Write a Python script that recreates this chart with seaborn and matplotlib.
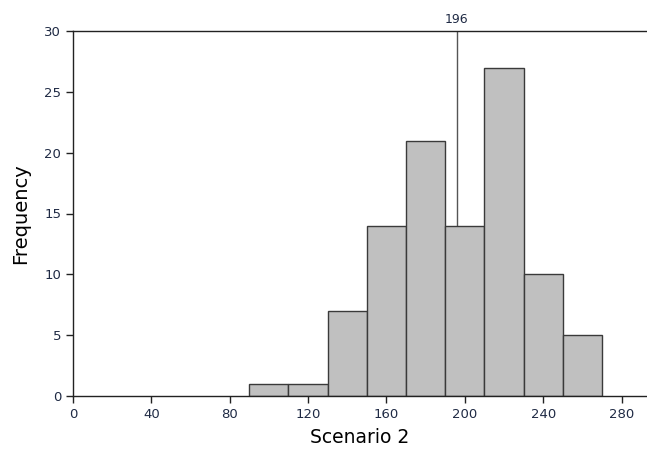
import matplotlib
matplotlib.use("Agg")
import matplotlib.pyplot as plt
import seaborn as sns
import numpy as np

# Histogram data (bin width 20)
bin_edges = [90, 110, 130, 150, 170, 190, 210, 230, 250, 270]
counts = [1, 1, 7, 14, 21, 14, 27, 10, 5]
ref_value = 196

sns.set_style("white")
plt.rcParams['font.family'] = ['DejaVu Sans']

fig = plt.figure(figsize=(6.47, 4.53), dpi=100)
ax = fig.add_axes([73 / 647, 57 / 453, 1 - 73 / 647, (396 - 31) / 453])

# reference line sits behind the bars
ax.axvline(ref_value, color="#555555", linewidth=1.0, zorder=0.5)
ax.text(ref_value, 30.4, str(ref_value), ha="center", va="bottom",
        fontsize=9, color="#1f2a44")

centers = [(a + b) / 2 for a, b in zip(bin_edges[:-1], bin_edges[1:])]
sns.histplot(x=centers, weights=counts, bins=bin_edges, ax=ax,
             color="#c0c0c0", edgecolor="#3a3a3a", linewidth=1.0, alpha=1.0,
             zorder=2)

ax.set_xlim(0, 293)
ax.set_ylim(0, 30)
ax.set_xticks(np.arange(0, 281, 40))
ax.set_yticks(np.arange(0, 31, 5))

ax.spines["right"].set_visible(False)
for side in ["left", "top", "bottom"]:
    ax.spines[side].set_color("#222222")
    ax.spines[side].set_linewidth(1.0)
    ax.spines[side].set_zorder(3)

ax.tick_params(axis="both", direction="out", length=5, width=1,
               color="#222222", labelsize=9.5, labelcolor="#1f2a44",
               bottom=True, left=True)

ax.set_xlabel("Scenario 2", fontsize=13.5, color="black", labelpad=5)
ax.set_ylabel("Frequency", fontsize=14, color="black", labelpad=10)

fig.savefig("out.png", dpi=100)
